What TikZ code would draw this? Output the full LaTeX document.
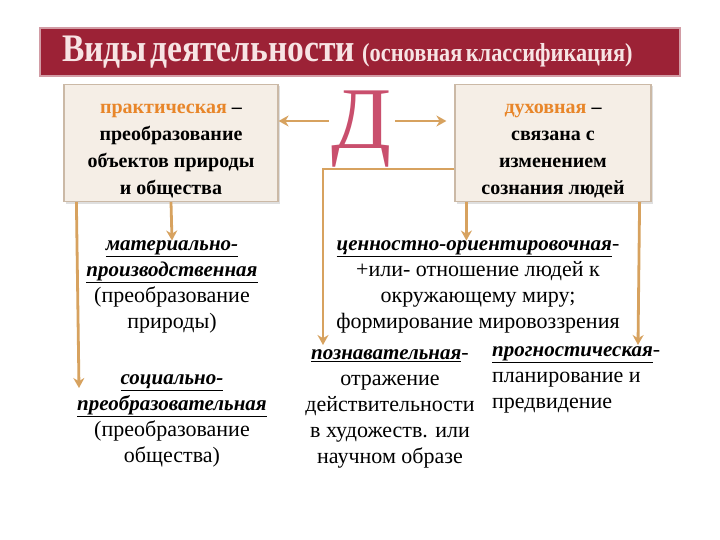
\documentclass[tikz,border=0pt]{standalone}
\usepackage{fontspec}
\setmainfont{Liberation Serif}
\newfontfamily\titlefont[FakeStretch=0.86]{Liberation Serif}
\usetikzlibrary{positioning,arrows.meta,shadows}
\definecolor{titlered}{HTML}{9C2236}
\definecolor{titletext}{HTML}{F7E4E4}
\definecolor{boxfill}{HTML}{F5EEE6}
\definecolor{boxline}{HTML}{CBB9A6}
\definecolor{orng}{HTML}{E8862A}
\definecolor{dpink}{HTML}{C94F6D}
\definecolor{arrowtan}{HTML}{D7A25F}
\newcommand{\vidname}[1]{{\fontsize{21}{26}\selectfont\bfseries\itshape\underline{#1}}}
\newcommand{\orngword}[1]{\rule{0pt}{26pt}\textcolor{orng}{#1}}

\begin{document}
\begin{tikzpicture}[x=1pt,y=-1pt,>={Stealth[length=10pt,width=11pt]},
  title/.style={fill=titlered,draw=titlered!45,line width=1.5pt,text=titletext,
    minimum height=48pt,text width=596pt,inner xsep=22pt,align=left},
  box/.style={draw=boxline,line width=1.2pt,fill=boxfill,minimum height=116pt,
    align=center,font=\fontsize{20}{27}\selectfont\bfseries,
    drop shadow={opacity=0.25,shadow xshift=2pt,shadow yshift=-2pt}},
  txt/.style={align=center,font=\fontsize{22}{26}\selectfont,inner sep=0pt},
  arr/.style={->,draw=arrowtan,line width=2.8pt},
]
\useasboundingbox[fill=white] (0,0) rectangle (720,540);

% title
\node[title] (T) at (360,52) {\titlefont\bfseries\fontsize{39}{39}\selectfont Виды деятельности\hspace{4pt}
  {\fontsize{26}{26}\selectfont (основная классификация)}};

% two kinds
\node[box,minimum width=214pt] (prak) at (171,143) {\orngword{практическая} --\\преобразование\\объектов природы\\и общества};
\node[box,minimum width=196pt] (duh) at (553,143) {\orngword{духовная} --\\связана с\\изменением\\сознания людей};
\node[font=\fontsize{88}{88}\selectfont,text=dpink,inner sep=0pt] (D) at (362,129) {Д};

\coordinate (dl) at ([xshift=-3pt,yshift=8pt]D.west);
\coordinate (dr) at ([xshift=3pt,yshift=8pt]D.east);
\draw[arr] (dl) -- (dl -| prak.east);
\draw[arr,shorten >=8pt] (dr) -- (dr -| duh.west);

% practical
\node[txt] (mat) at (172,287) {\vidname{материально-}\\\vidname{производственная}\\(преобразование\\природы)};
\node[txt] (soc) at (172,421) {\vidname{социально-}\\\vidname{преобразовательная}\\(преобразование\\общества)};
\coordinate (socin) at (79,388);
\draw[arr] (prak.south) -- (mat.north);
\draw[arr] ([xshift=13pt]prak.south west) -- (socin);

% spiritual
\node[txt] (cen) at (478,287) {\vidname{ценностно-ориентировочная}-\\+или- отношение людей к\\окружающему миру;\\формирование мировоззрения};
\node[txt] (poz) at (390,409) {\vidname{познавательная}-\\отражение\\действительности\\в художеств. или\\научном образе};
\node[txt,align=left,anchor=north west] (prog) at (492,346) {\vidname{прогностическая}-\\планирование и\\предвидение};
\coordinate (pozin) at (323,345);
\coordinate (progin) at (638,345);
\draw[arr] ([xshift=12pt]duh.south west) -- ([xshift=12pt]duh.south west |- cen.north);
\draw[arr] ([yshift=-26pt]duh.west) -| (pozin);
\draw[arr] ([xshift=-12pt]duh.south east) -- (progin);
\end{tikzpicture}
\end{document}
